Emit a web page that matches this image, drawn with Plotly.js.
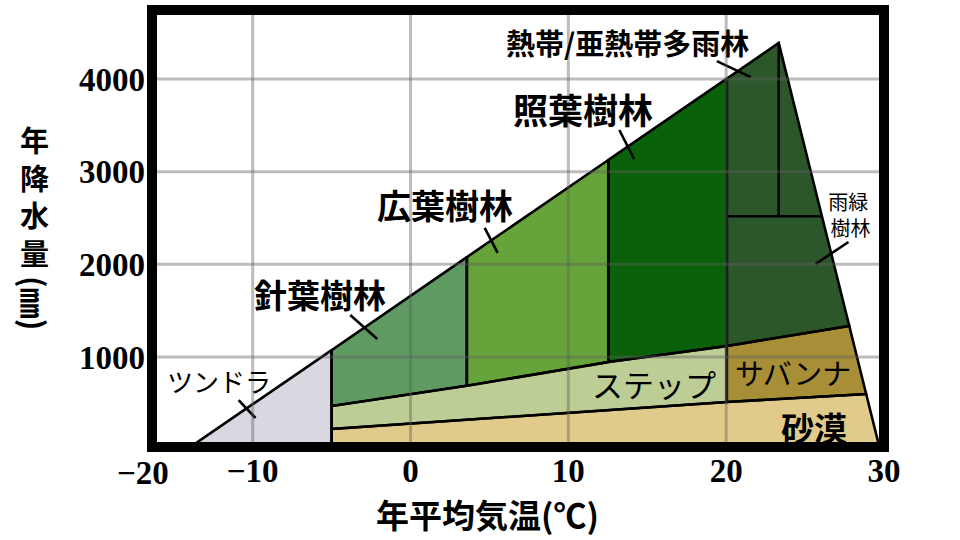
<!DOCTYPE html>
<html><head><meta charset="utf-8">
<script src="https://cdn.plot.ly/plotly-3.0.1.min.js"></script>
<style>html,body{margin:0;padding:0;background:#fff}</style>
</head><body><div id="chart" style="width:960px;height:540px"></div>
<script>
// ---- data (°C, mm) ----
const tundraStartT = -14.2;                 // where the upper edge meets 0 mm
const zoneBreaksT = [-5, 3.57, 12.53, 20.04]; // tundra|conifer|broadleaf|laurel|tropical
const upperEdgeP = [1075, 2078, 3126, 4005];  // upper edge at the zone breaks
const peakT = 23.33, peakP = 4389;
const steppeTopP = [471, 690, 946, 1119];     // steppe upper line at the zone breaks
const savannaTopEnd = [27.8, 1335];           // savanna upper line at the right edge
const desertTopP = [223, 515];                // desert upper line at -5 and 20.04 °C
const desertTopEnd = [28.87, 601];            // desert upper line at the right edge
const baseRightT = 29.75;                     // right edge meets 0 mm
const rainSplitP = 2520, rainSplitRightT = 26.06;

const xTickVals = [-10, 0, 10, 20, 30];
const xTickText = ['−10', '0', '10', '20', '30'];
const yTickVals = [1000, 2000, 3000, 4000];
const xGrid = [-10, 0, 10, 20];
const yGrid = [1000, 2000, 3000, 4000];

const B = zoneBreaksT;
const regions = [
  {name:'ツンドラ', color:'#d9d8e1', x:[tundraStartT, B[0], B[0]], y:[0, upperEdgeP[0], 0]},
  {name:'針葉樹林', color:'#5f9a63', x:[B[0], B[0], B[1], B[1]], y:[steppeTopP[0], upperEdgeP[0], upperEdgeP[1], steppeTopP[1]]},
  {name:'広葉樹林', color:'#66a33a', x:[B[1], B[1], B[2], B[2]], y:[steppeTopP[1], upperEdgeP[1], upperEdgeP[2], steppeTopP[2]]},
  {name:'照葉樹林', color:'#0a610a', x:[B[2], B[2], B[3], B[3]], y:[steppeTopP[2], upperEdgeP[2], upperEdgeP[3], steppeTopP[3]]},
  {name:'熱帯林', color:'#2c572b', x:[B[3], B[3], peakT, savannaTopEnd[0]], y:[steppeTopP[3], upperEdgeP[3], peakP, savannaTopEnd[1]]},
  {name:'ステップ', color:'#bccd95', x:[B[0], B[0], B[1], B[2], B[3], B[3]], y:[desertTopP[0], steppeTopP[0], steppeTopP[1], steppeTopP[2], steppeTopP[3], desertTopP[1]]},
  {name:'サバンナ', color:'#a88f37', x:[B[3], B[3], savannaTopEnd[0], desertTopEnd[0]], y:[desertTopP[1], steppeTopP[3], savannaTopEnd[1], desertTopEnd[1]]},
  {name:'砂漠', color:'#e0cb8c', x:[B[0], B[0], B[3], desertTopEnd[0], baseRightT], y:[0, desertTopP[0], desertTopP[1], desertTopEnd[1], 0]}
];

const traces = [];
regions.forEach(r => traces.push({
  type:'scatter', mode:'lines', x:r.x.concat([r.x[0]]), y:r.y.concat([r.y[0]]),
  fill:'toself', fillcolor:r.color, line:{width:0, color:r.color}, hoverinfo:'skip', showlegend:false
}));
regions.forEach(r => traces.push({
  type:'scatter', mode:'lines', x:r.x.concat([r.x[0]]), y:r.y.concat([r.y[0]]),
  line:{width:2.6, color:'#000'}, hoverinfo:'skip', showlegend:false
}));
// inner division lines of the tropical forest block
traces.push({type:'scatter', mode:'lines', x:[peakT, peakT], y:[peakP, rainSplitP], line:{width:2.6,color:'#000'}, hoverinfo:'skip', showlegend:false});
traces.push({type:'scatter', mode:'lines', x:[B[3], rainSplitRightT], y:[rainSplitP, rainSplitP], line:{width:2.6,color:'#000'}, hoverinfo:'skip', showlegend:false});

// ---- layout helpers ----
const L = 152, R = 76, T = 10, Bm = 93, W = 960, H = 540;
const pw = W - L - R, ph = H - T - Bm;
const px2x = p => (p - L) / pw;
const py2y = p => (H - Bm - p) / ph;

// pointer ticks (label leader marks)
const pointers = [
  [-10.89, 536, -9.82, 342],
  [-3.82, 1454, -2.11, 1195],
  [4.70, 2393, 5.52, 2123],
  [13.23, 3450, 14.17, 3137],
  [19.41, 4194, 21.56, 4021],
  [25.66, 2004, 27.75, 2241]
];
const shapes = [];
pointers.forEach(p => shapes.push({type:'line', xref:'x', yref:'y', x0:p[0], y0:p[1], x1:p[2], y1:p[3], line:{color:'#000', width:2.6}, layer:'above'}));
const gridColor = 'rgba(95,95,95,0.42)';
xGrid.forEach(v => shapes.push({type:'line', xref:'x', yref:'paper', x0:v, x1:v, y0:0, y1:1, line:{color:gridColor, width:3}, layer:'above'}));
yGrid.forEach(v => shapes.push({type:'line', xref:'paper', yref:'y', x0:0, x1:1, y0:v, y1:v, line:{color:gridColor, width:3}, layer:'above'}));
shapes.push({type:'rect', xref:'paper', yref:'paper', x0:0, x1:1, y0:0, y1:1, line:{color:'#000', width:10}, fillcolor:'rgba(0,0,0,0)', layer:'above'});

const jp = 'Noto Sans CJK JP';
const labels = [
  {t:'ツンドラ', x:-12.15, y:752, s:26, b:false},
  {t:'針葉樹林', x:-5.71, y:1680, s:33, b:true},
  {t:'広葉樹林', x:2.18, y:2641, s:34, b:true},
  {t:'照葉樹林', x:10.95, y:3677, s:35, b:true},
  {t:'熱帯/亜熱帯多雨林', x:13.73, y:4400, s:29, b:true},
  {t:'雨緑<br> 樹林', x:27.75, y:2533, s:20, b:false},
  {t:'ステップ', x:15.44, y:709, s:31, b:false},
  {t:'サバンナ', x:24.21, y:838, s:29, b:false},
  {t:'砂漠', x:25.54, y:245, s:33, b:true}
];
const annotations = labels.map(a => ({
  text:a.t, x:a.x, y:a.y, xref:'x', yref:'y', showarrow:false, xanchor:'center', yanchor:'middle',
  font:{family:jp, size:a.s, color:'#000', weight:a.b ? 'bold' : 'normal'}
}));
// x-axis title and left-edge tick label
annotations.push({text:'年平均気温(℃)', xref:'paper', yref:'paper', x:px2x(487), y:py2y(514), showarrow:false,
  xanchor:'center', yanchor:'middle', font:{family:jp, size:33, color:'#000', weight:'bold'}});
annotations.push({text:'−20', xref:'paper', yref:'paper', x:px2x(143), y:py2y(473), showarrow:false,
  xanchor:'center', yanchor:'middle', font:{family:'Liberation Serif', size:33, color:'#000', weight:'bold'}});
// vertical y-axis title
annotations.push({text:'年<br>降<br>水<br>量', xref:'paper', yref:'paper', x:px2x(35), y:py2y(195), showarrow:false,
  xanchor:'center', yanchor:'middle', font:{family:jp, size:29, color:'#000', weight:'bold'}});
annotations.push({text:'(㎜)', xref:'paper', yref:'paper', x:px2x(35), y:py2y(303), showarrow:false,
  xanchor:'center', yanchor:'middle', textangle:90, font:{family:jp, size:31, color:'#000', weight:'bold'}});

const layout = {
  width:W, height:H, margin:{l:L, r:R, t:T, b:Bm},
  paper_bgcolor:'#fff', plot_bgcolor:'#fff',
  xaxis:{range:[-16.38, 30], tickvals:xTickVals, ticktext:xTickText, showgrid:false, zeroline:false,
    showline:false, ticks:'', ticklabelstandoff:1,
    tickfont:{family:'Liberation Serif', size:33, color:'#000', weight:'bold'}},
  yaxis:{range:[29, 4745], tickvals:yTickVals, showgrid:false, zeroline:false, showline:false, ticks:'',
    ticklabelstandoff:6, tickfont:{family:'Liberation Serif', size:33, color:'#000', weight:'bold'}},
  shapes:shapes, annotations:annotations, showlegend:false
};
Plotly.newPlot('chart', traces, layout, {displayModeBar:false, staticPlot:true});
</script></body></html>
